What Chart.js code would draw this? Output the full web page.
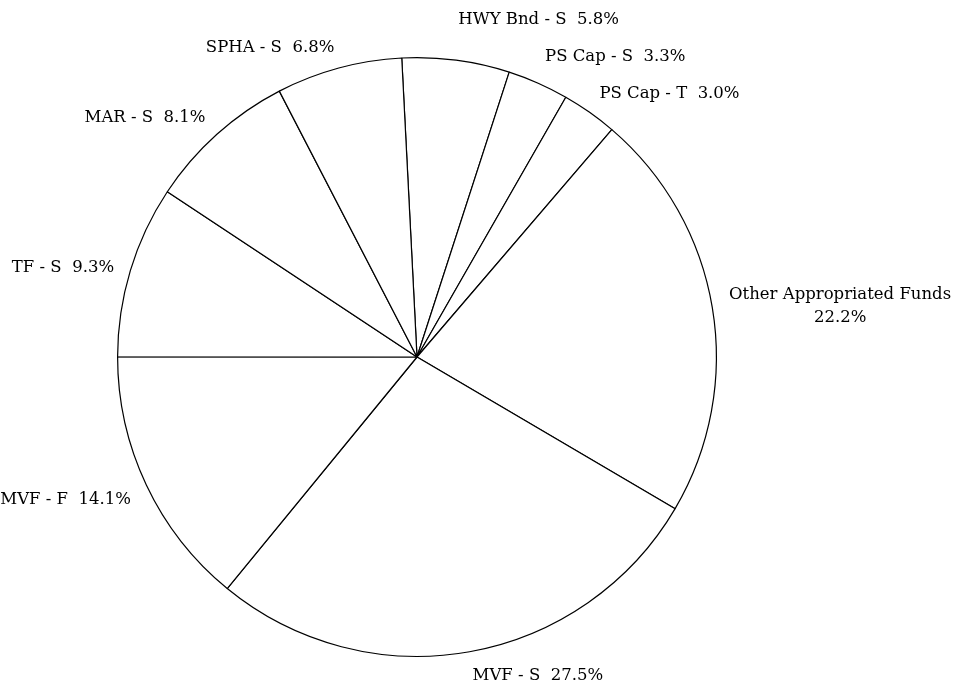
<!DOCTYPE html>
<html>
<head>
<meta charset="utf-8">
<script src="https://cdn.jsdelivr.net/npm/chart.js@4.4.1/dist/chart.umd.min.js"></script>
<style>
  html, body { margin: 0; padding: 0; background: #fff; }
  #wrap { width: 953px; height: 690px; position: relative; }
</style>
</head>
<body>
<div id="wrap"><canvas id="pie" width="953" height="690"></canvas></div>
<script>
const categories = ["HWY Bnd - S", "PS Cap - S", "PS Cap - T", "Other Appropriated Funds",
  "MVF - S", "MVF - F", "TF - S", "MAR - S", "SPHA - S"];
const shares = [5.8, 3.3, 3.0, 22.2, 27.5, 14.1, 9.3, 8.1, 6.8];

const FONT = "16.5px 'DejaVu Serif'";
const CAP_H = 12;      // visual cap height of the font
const LINE_GAP = 23;   // baseline to baseline
const MIN_STEP = 37;   // smallest baseline spacing between neighbour labels

const labelLines = (name, v) => {
  const pct = `${v.toFixed(1)}%`;
  return name.length > 18 ? [name, pct] : [`${name}  ${pct}`];
};

// outside labels: the text box corner nearest the pie sits on the slice's mid angle
const outsideLabels = {
  id: "outsideLabels",
  afterDatasetsDraw(chart) {
    const ctx = chart.ctx;
    const meta = chart.getDatasetMeta(0);
    ctx.save();
    ctx.font = FONT;
    ctx.fillStyle = "#000";
    ctx.textBaseline = "alphabetic";
    ctx.textAlign = "center";

    const boxes = meta.data.map((arc, i) => {
      const p = arc.getProps(["x", "y", "startAngle", "endAngle", "outerRadius"], true);
      const mid = (p.startAngle + p.endAngle) / 2;
      const dx = Math.cos(mid), dy = Math.sin(mid);
      const r = p.outerRadius + 17;
      const ax = p.x + dx * r, ay = p.y + dy * r;
      const lines = labelLines(categories[i], shares[i]);
      const w = Math.max(...lines.map((l) => ctx.measureText(l).width));
      const h = CAP_H + (lines.length - 1) * LINE_GAP;
      let top;
      if (dy < -0.35) top = ay - h;
      else if (dy > 0.35) top = ay;
      else top = ay - h / 2;
      const left = dx >= 0 ? ax : ax - w;
      return { lines, w, h, left, top, right: dx >= 0, up: dy < 0 };
    });

    // crowded labels in the upper right: push the higher ones up
    const upperRight = boxes.filter((b) => b.right && b.up).sort((a, b) => b.top - a.top);
    for (let k = 1; k < upperRight.length; k++) {
      const below = upperRight[k - 1], cur = upperRight[k];
      const limit = below.top + below.h - MIN_STEP;
      if (cur.top + cur.h > limit) cur.top = limit - cur.h;
    }

    boxes.forEach((b) => {
      b.lines.forEach((l, k) => {
        ctx.fillText(l, b.left + b.w / 2, b.top + CAP_H + k * LINE_GAP);
      });
    });
    ctx.restore();
  },
};

new Chart(document.getElementById("pie"), {
  type: "pie",
  data: {
    labels: categories,
    datasets: [{
      data: shares,
      backgroundColor: "#ffffff",
      borderColor: "#000000",
      borderWidth: 1.2,
      hoverOffset: 0,
    }],
  },
  options: {
    responsive: false,
    animation: false,
    rotation: -2.92,
    layout: { padding: { left: 117, right: 236, top: 57, bottom: 33 } },
    plugins: {
      legend: { display: false },
      tooltip: { enabled: false },
    },
    events: [],
  },
  plugins: [outsideLabels],
});
</script>
</body>
</html>
